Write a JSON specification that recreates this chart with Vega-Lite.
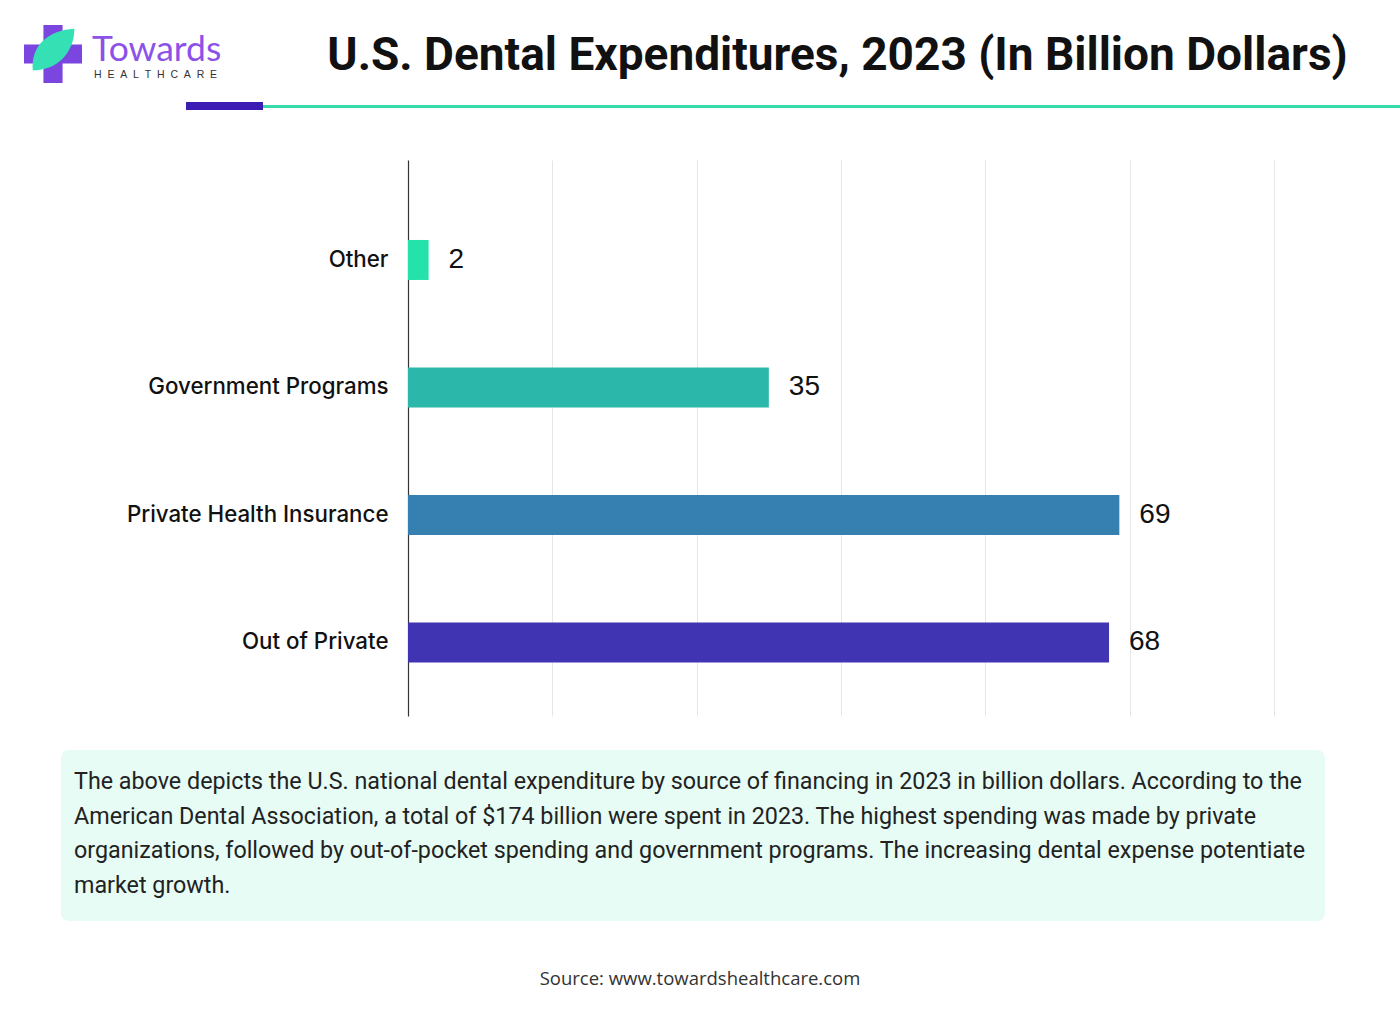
{
  "$schema": "https://vega.github.io/schema/vega-lite/v6.json",
  "width": 866,
  "height": 556,
  "autosize": "none",
  "padding": {"left": 408, "top": 160, "right": 126, "bottom": 305},
  "background": "white",
  "config": {"view": {"stroke": null}, "font": "Inter"},
  "data": {
    "values": [
      {"source": "Other", "value": 2},
      {"source": "Government Programs", "value": 35},
      {"source": "Private Health Insurance", "value": 69},
      {"source": "Out of Private", "value": 68}
    ]
  },
  "layer": [
    {
      "mark": {"type": "bar"},
      "encoding": {
        "y": {
          "field": "source",
          "type": "nominal",
          "sort": ["Other", "Government Programs", "Private Health Insurance", "Out of Private"],
          "scale": {"paddingInner": 0.6863, "paddingOuter": 0.5235, "align": 0.599},
          "axis": {
            "title": null,
            "labelFontSize": 22.3,
            "labelFont": "Inter",
            "labelFontWeight": 500,
            "labelColor": "#111111",
            "labelPadding": 20,
            "labelLimit": 400,
            "ticks": false,
            "domainColor": "#333333",
            "domainWidth": 1.2,
            "grid": false
          }
        },
        "x": {
          "field": "value",
          "type": "quantitative",
          "scale": {"domain": [0, 84], "nice": false},
          "axis": {
            "title": null,
            "grid": true,
            "gridColor": "#e6e6e6",
            "gridWidth": 1,
            "values": [14, 28, 42, 56, 70, 84],
            "labels": false,
            "ticks": false,
            "domain": false
          }
        },
        "color": {
          "field": "source",
          "type": "nominal",
          "legend": null,
          "scale": {
            "domain": ["Other", "Government Programs", "Private Health Insurance", "Out of Private"],
            "range": ["#24e2aa", "#2bb8aa", "#3580b0", "#4134b2"]
          }
        }
      }
    },
    {
      "mark": {"type": "text", "align": "left", "baseline": "middle", "dx": 20, "font": "Liberation Sans", "fontSize": 28, "color": "#111111"},
      "encoding": {
        "y": {"field": "source", "type": "nominal", "sort": ["Other", "Government Programs", "Private Health Insurance", "Out of Private"]},
        "x": {"field": "value", "type": "quantitative"},
        "text": {"field": "value", "type": "quantitative"}
      }
    },
    {
      "data": {"values": [{}]},
      "mark": {"type": "rule", "color": "#3b1db3", "strokeWidth": 8},
      "encoding": {"x": {"value": -222}, "x2": {"value": -145}, "y": {"value": -54}}
    },
    {
      "data": {"values": [{}]},
      "mark": {"type": "rule", "color": "#38d9ab", "strokeWidth": 3},
      "encoding": {"x": {"value": -145}, "x2": {"value": 992}, "y": {"value": -53.5}}
    },
    {
      "data": {"values": [{}]},
      "mark": {"type": "point", "filled": true, "opacity": 1, "color": "#7b45e0", "shape": "M-0.33,-1H0.33V-0.33H1V0.33H0.33V1H-0.33V0.33H-1V-0.33H-0.33Z", "size": 3364},
      "encoding": {"x": {"value": -355}, "y": {"value": -106}}
    },
    {
      "data": {"values": [{}]},
      "mark": {"type": "point", "filled": true, "opacity": 1, "color": "#35e0b5", "shape": "M-0.9,0.9C-1,-0.2,-0.2,-0.9,0.95,-0.95C0.95,0.1,0.2,0.9,-0.9,0.9Z", "size": 2025},
      "encoding": {"x": {"value": -355}, "y": {"value": -110}}
    },
    {
      "data": {"values": [{"t": "Towards"}]},
      "mark": {"type": "text", "align": "left", "baseline": "alphabetic", "font": "Lato", "fontSize": 35.5, "color": "#8c52e8"},
      "encoding": {"x": {"value": -316}, "y": {"value": -99}, "text": {"field": "t"}}
    },
    {
      "data": {"values": [{"t": "H\u00a0\u00a0E\u00a0\u00a0A\u00a0\u00a0L\u00a0\u00a0T\u00a0\u00a0H\u00a0\u00a0C\u00a0\u00a0A\u00a0\u00a0R\u00a0\u00a0E"}]},
      "mark": {"type": "text", "align": "left", "baseline": "alphabetic", "font": "Liberation Sans", "fontSize": 10.5, "color": "#333333"},
      "encoding": {"x": {"value": -314}, "y": {"value": -82}, "text": {"field": "t"}}
    },
    {
      "data": {"values": [{"t": "U.S. Dental Expenditures, 2023 (In Billion Dollars)"}]},
      "mark": {"type": "text", "align": "center", "baseline": "alphabetic", "font": "Roboto", "fontWeight": "bold", "fontSize": 46, "color": "#111111"},
      "encoding": {"x": {"value": 429.5}, "y": {"value": -90}, "text": {"field": "t"}}
    },
    {
      "data": {"values": [{}]},
      "mark": {"type": "rect", "color": "#e6fcf5", "cornerRadius": 8},
      "encoding": {"x": {"value": -347}, "x2": {"value": 917}, "y": {"value": 590}, "y2": {"value": 761}}
    },
    {
      "data": {"values": [{"lines": ["The above depicts the U.S. national dental expenditure by source of financing in 2023 in billion dollars. According to the", "American Dental Association, a total of $174 billion were spent in 2023. The highest spending was made by private", "organizations, followed by out-of-pocket spending and government programs. The increasing dental expense potentiate", "market growth."]}]},
      "mark": {"type": "text", "align": "left", "baseline": "alphabetic", "font": "Roboto", "fontSize": 23.3, "lineHeight": 34.7, "color": "#222222"},
      "encoding": {"x": {"value": -334}, "y": {"value": 629}, "text": {"field": "lines"}}
    },
    {
      "data": {"values": [{"t": "Source: www.towardshealthcare.com"}]},
      "mark": {"type": "text", "align": "center", "baseline": "alphabetic", "font": "Open Sans", "fontSize": 18.5, "color": "#333333"},
      "encoding": {"x": {"value": 292}, "y": {"value": 825}, "text": {"field": "t"}}
    }
  ]
}
